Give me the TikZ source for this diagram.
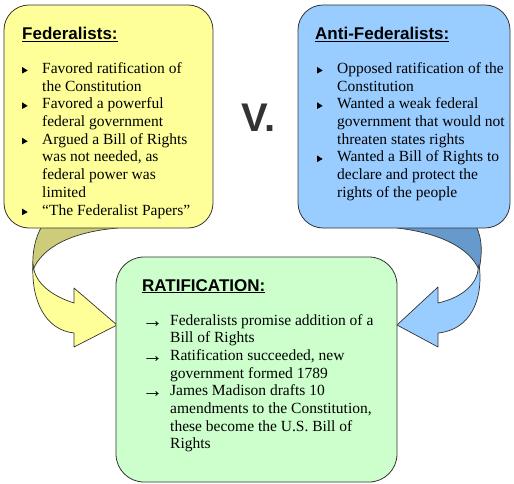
\documentclass[tikz,border=0pt]{standalone}
\usepackage{graphicx}
\usepackage{fontspec}
\setmainfont{Liberation Serif}
\newfontfamily\headfont{Liberation Sans}
\definecolor{fedfill}{HTML}{FFFF99}
\definecolor{fedback}{HTML}{CCCC7A}
\definecolor{antifill}{HTML}{99CCFF}
\definecolor{antiback}{HTML}{6699CC}
\definecolor{ratfill}{HTML}{CCFFCC}
\definecolor{vgray}{HTML}{333333}
\newcommand{\tri}{\tikz[baseline = 0pt] \fill (0bp,0bp) -- (5.5bp,3bp) -- (0bp,6.5bp) -- cycle;}
\newcommand{\arr}{\raisebox{-2bp}{\fontsize{21bp}{21bp}\selectfont\symbol{"2192}}}

\begin{document}
\begin{tikzpicture}[x = 1bp, y = -1bp]
\tikzstyle{BoxStyle}=[
shape = rectangle,
draw = black!80,
line width = 0.8bp,
inner sep = 0pt]
\tikzstyle{TitleStyle}=[
anchor = base west,
inner sep = 0pt,
font = \headfont\bfseries\fontsize{17bp}{17bp}\selectfont]
\tikzstyle{ListStyle}=[
anchor = base west,
inner sep = 0pt,
font = \fontsize{15.5bp}{17.7bp}\selectfont]
\tikzstyle{RibbonStyle}=[
draw = black!80,
line width = 0.7bp,
line join = round]
\useasboundingbox (0,0) rectangle (514,484);
\fill[white] (0,0) rectangle (514,484);
\filldraw[RibbonStyle, fill = fedback] (42,226) .. controls (35,238) and (32,252) .. (33,270) .. controls (42,248) and (70,232) .. (118,228) -- (118,226) -- cycle;
\filldraw[RibbonStyle, fill = fedfill] (33,264) .. controls (31,300) and (45,330) .. (74,333) -- (74,347) -- (117,325) -- (74,288) -- (74,303) .. controls (55,297) and (38,286) .. (34,270) -- cycle;
\filldraw[RibbonStyle, fill = antiback] (476,226) .. controls (483,240) and (482,255) .. (479,270) .. controls (470,248) and (440,233) .. (397,228) -- (397,226) -- cycle;
\filldraw[RibbonStyle, fill = antifill] (479,264) .. controls (484,300) and (470,330) .. (438,333) -- (438,347) -- (397,325) -- (438,287) -- (438,303) .. controls (460,298) and (476,286) .. (478,270) -- cycle;
\node[BoxStyle, fill = fedfill, rounded corners = 25bp, minimum width = 209bp, minimum height = 223bp] (fedbox) at (108.5,116.5) {};
\node[BoxStyle, fill = antifill, rounded corners = 25bp, minimum width = 212bp, minimum height = 223bp] (antibox) at (404,116.5) {};
\node[BoxStyle, fill = ratfill, rounded corners = 28bp, minimum width = 281bp, minimum height = 225bp] (ratbox) at (256.5,369.5) {};
\node[TitleStyle] (fedtitle) at (22,40) {\underline{Federalists:}};
\node[TitleStyle] (antititle) at (315,40) {\underline{Anti-Federalists:}};
\node[TitleStyle] (rattitle) at (142,291) {\underline{RATIFICATION:}};
\node[anchor = base west, inner sep = 0pt, text = vgray, font = \headfont\bfseries\fontsize{40bp}{40bp}\selectfont] (versus) at (241,132) {V.};
\node[ListStyle] (fedlist) at (22,73.5) {\begin{tabular}[t]{@{}p{20bp}@{}l@{}}
\tri & Favored ratification of\\
 & the Constitution\\
\tri & Favored a powerful\\
 & federal government\\
\tri & Argued a Bill of Rights\\
 & was not needed, as\\
 & federal power was\\
 & limited\\
\tri & “The Federalist Papers”
\end{tabular}};
\node[ListStyle] (antilist) at (317,73.5) {\begin{tabular}[t]{@{}p{20bp}@{}l@{}}
\tri & Opposed ratification of the\\
 & Constitution\\
\tri & Wanted a weak federal\\
 & government that would not\\
 & threaten states rights\\
\tri & Wanted a Bill of Rights to\\
 & declare and protect the\\
 & rights of the people
\end{tabular}};
\node[ListStyle] (ratlist) at (142,325) {\begin{tabular}[t]{@{}p{28bp}@{}l@{}}
\arr & Federalists promise addition of a\\
 & Bill of Rights\\
\arr & Ratification succeeded, new\\
 & government formed 1789\\
\arr & James Madison drafts 10\\
 & amendments to the Constitution,\\
 & these become the U.S. Bill of\\
 & Rights
\end{tabular}};
\end{tikzpicture}
\end{document}
